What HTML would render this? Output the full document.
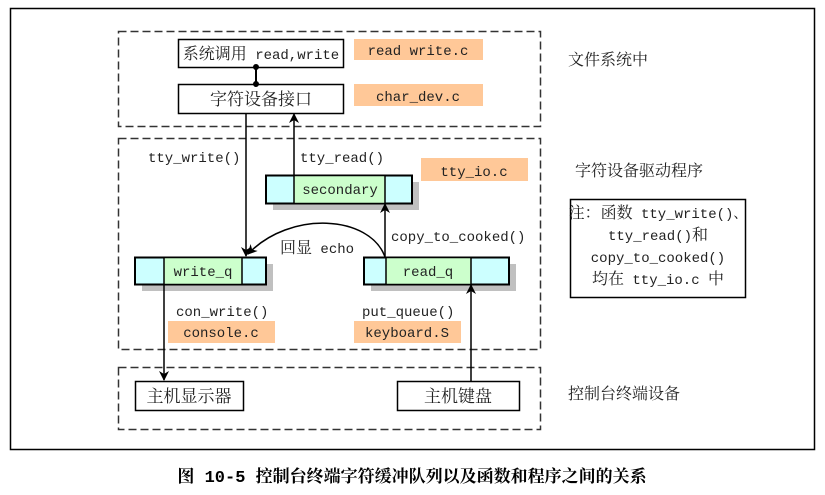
<!DOCTYPE html>
<html><head><meta charset="utf-8"><style>
html,body{margin:0;padding:0;background:#fff;width:825px;height:495px;overflow:hidden}
svg text{font-family:"Liberation Mono","Noto Serif CJK SC",monospace;font-size:14px;fill:#222}
</style></head><body>
<svg width="825" height="495" viewBox="0 0 825 495" xmlns="http://www.w3.org/2000/svg">
<defs>
<marker id="ah" markerWidth="10" markerHeight="10" refX="9" refY="5" orient="auto" markerUnits="userSpaceOnUse">
<path d="M0,0 L10,5 L0,10 L3,5 z" fill="#000"/></marker>
</defs>
<rect x="10.5" y="8.5" width="804" height="441" fill="none" stroke="#000" stroke-width="1.5"/>
<g fill="none" stroke="#333" stroke-width="1.5" stroke-dasharray="8,4">
<rect x="118.5" y="31.5" width="422" height="95"/>
<rect x="118.5" y="138.5" width="422" height="211"/>
<rect x="118.5" y="367.5" width="422" height="62"/>
</g>
<g fill="#ffc898">
<rect x="354" y="39" width="129" height="21"/>
<rect x="354" y="84" width="129" height="22"/>
<rect x="421" y="158" width="107" height="23"/>
<rect x="168" y="321" width="107" height="22"/>
<rect x="354" y="321" width="107" height="22"/>
</g>
<text x="418" y="55" text-anchor="middle">read write.c</text>
<text x="418" y="101" text-anchor="middle">char_dev.c</text>
<text x="474" y="176" text-anchor="middle">tty_io.c</text>
<text x="221" y="337" text-anchor="middle">console.c</text>
<text x="407" y="337" text-anchor="middle">keyboard.S</text>
<rect x="178.5" y="39.5" width="165" height="28" fill="#fff" stroke="#000" stroke-width="1.5"/>
<text x="261" y="59" text-anchor="middle"><tspan style="font-size:16px">系统调用</tspan> read,write</text>
<rect x="178.5" y="84.5" width="165" height="29" fill="#fff" stroke="#000" stroke-width="1.5"/>
<text x="261" y="105" text-anchor="middle" style="font-size:17px">字符设备接口</text>
<line x1="256" y1="66" x2="256" y2="84" stroke="#000" stroke-width="2"/>
<circle cx="256" cy="67" r="3" fill="#000"/><circle cx="256" cy="84" r="3" fill="#000"/>
<rect x="273" y="182" width="146" height="28" fill="#c0c0c0"/>
<rect x="266" y="175.5" width="146" height="28" fill="#ccffff" stroke="#000" stroke-width="2"/>
<rect x="294" y="175.5" width="91" height="28" fill="#ccffcc" stroke="#000" stroke-width="1.5"/>
<text x="340" y="194" text-anchor="middle">secondary</text>
<rect x="142" y="264" width="131" height="27" fill="#c0c0c0"/>
<rect x="135" y="257.5" width="131" height="27" fill="#ccffff" stroke="#000" stroke-width="2"/>
<rect x="164" y="257.5" width="78" height="27" fill="#ccffcc" stroke="#000" stroke-width="1.5"/>
<text x="203" y="276" text-anchor="middle">write_q</text>
<rect x="371" y="264" width="145" height="27" fill="#c0c0c0"/>
<rect x="364" y="257.5" width="145" height="27" fill="#ccffff" stroke="#000" stroke-width="2"/>
<rect x="386" y="257.5" width="85" height="27" fill="#ccffcc" stroke="#000" stroke-width="1.5"/>
<text x="428" y="276" text-anchor="middle">read_q</text>
<rect x="135.5" y="381.5" width="108" height="29" fill="#fff" stroke="#000" stroke-width="1.5"/>
<text x="189" y="402" text-anchor="middle" style="font-size:17px">主机显示器</text>
<rect x="397.5" y="381.5" width="122" height="29" fill="#fff" stroke="#000" stroke-width="1.5"/>
<text x="458" y="402" text-anchor="middle" style="font-size:17px">主机键盘</text>
<g stroke="#000" stroke-width="1.5" fill="none">
<line x1="246" y1="113" x2="246" y2="256" marker-end="url(#ah)"/>
<line x1="294" y1="175" x2="294" y2="114" marker-end="url(#ah)"/>
<line x1="385" y1="257" x2="385" y2="204" marker-end="url(#ah)"/>
<path d="M385,257 C370,215 290,210 248,254" marker-end="url(#ah)"/>
<line x1="164" y1="284" x2="164" y2="380" marker-end="url(#ah)"/>
<line x1="471" y1="381" x2="471" y2="285" marker-end="url(#ah)"/>
</g>
<text x="148" y="162">tty_write()</text>
<text x="300" y="162">tty_read()</text>
<text x="391" y="241">copy_to_cooked()</text>
<text x="280" y="253"><tspan style="font-size:16px">回显</tspan> echo</text>
<text x="176" y="316">con_write()</text>
<text x="362" y="316">put_queue()</text>
<text x="568" y="65" style="font-size:16px">文件系统中</text>
<text x="575" y="176" style="font-size:16px">字符设备驱动程序</text>
<rect x="570.5" y="199.5" width="175" height="98" fill="#fff" stroke="#000" stroke-width="1.5"/>
<text x="658" y="218" text-anchor="middle"><tspan style="font-size:16px">注：函数</tspan> tty_write()、</text>
<text x="658" y="240" text-anchor="middle">tty_read()<tspan style="font-size:16px">和</tspan></text>
<text x="658" y="262" text-anchor="middle">copy_to_cooked()</text>
<text x="658" y="284" text-anchor="middle"><tspan style="font-size:16px">均在</tspan> tty_io.c <tspan style="font-size:16px">中</tspan></text>
<text x="568" y="399" style="font-size:16px">控制台终端设备</text>
<text x="412" y="482" text-anchor="middle" style="font-size:17px;font-weight:bold;fill:#000">图 10-5 控制台终端字符缓冲队列以及函数和程序之间的关系</text>
</svg>
</body></html>
